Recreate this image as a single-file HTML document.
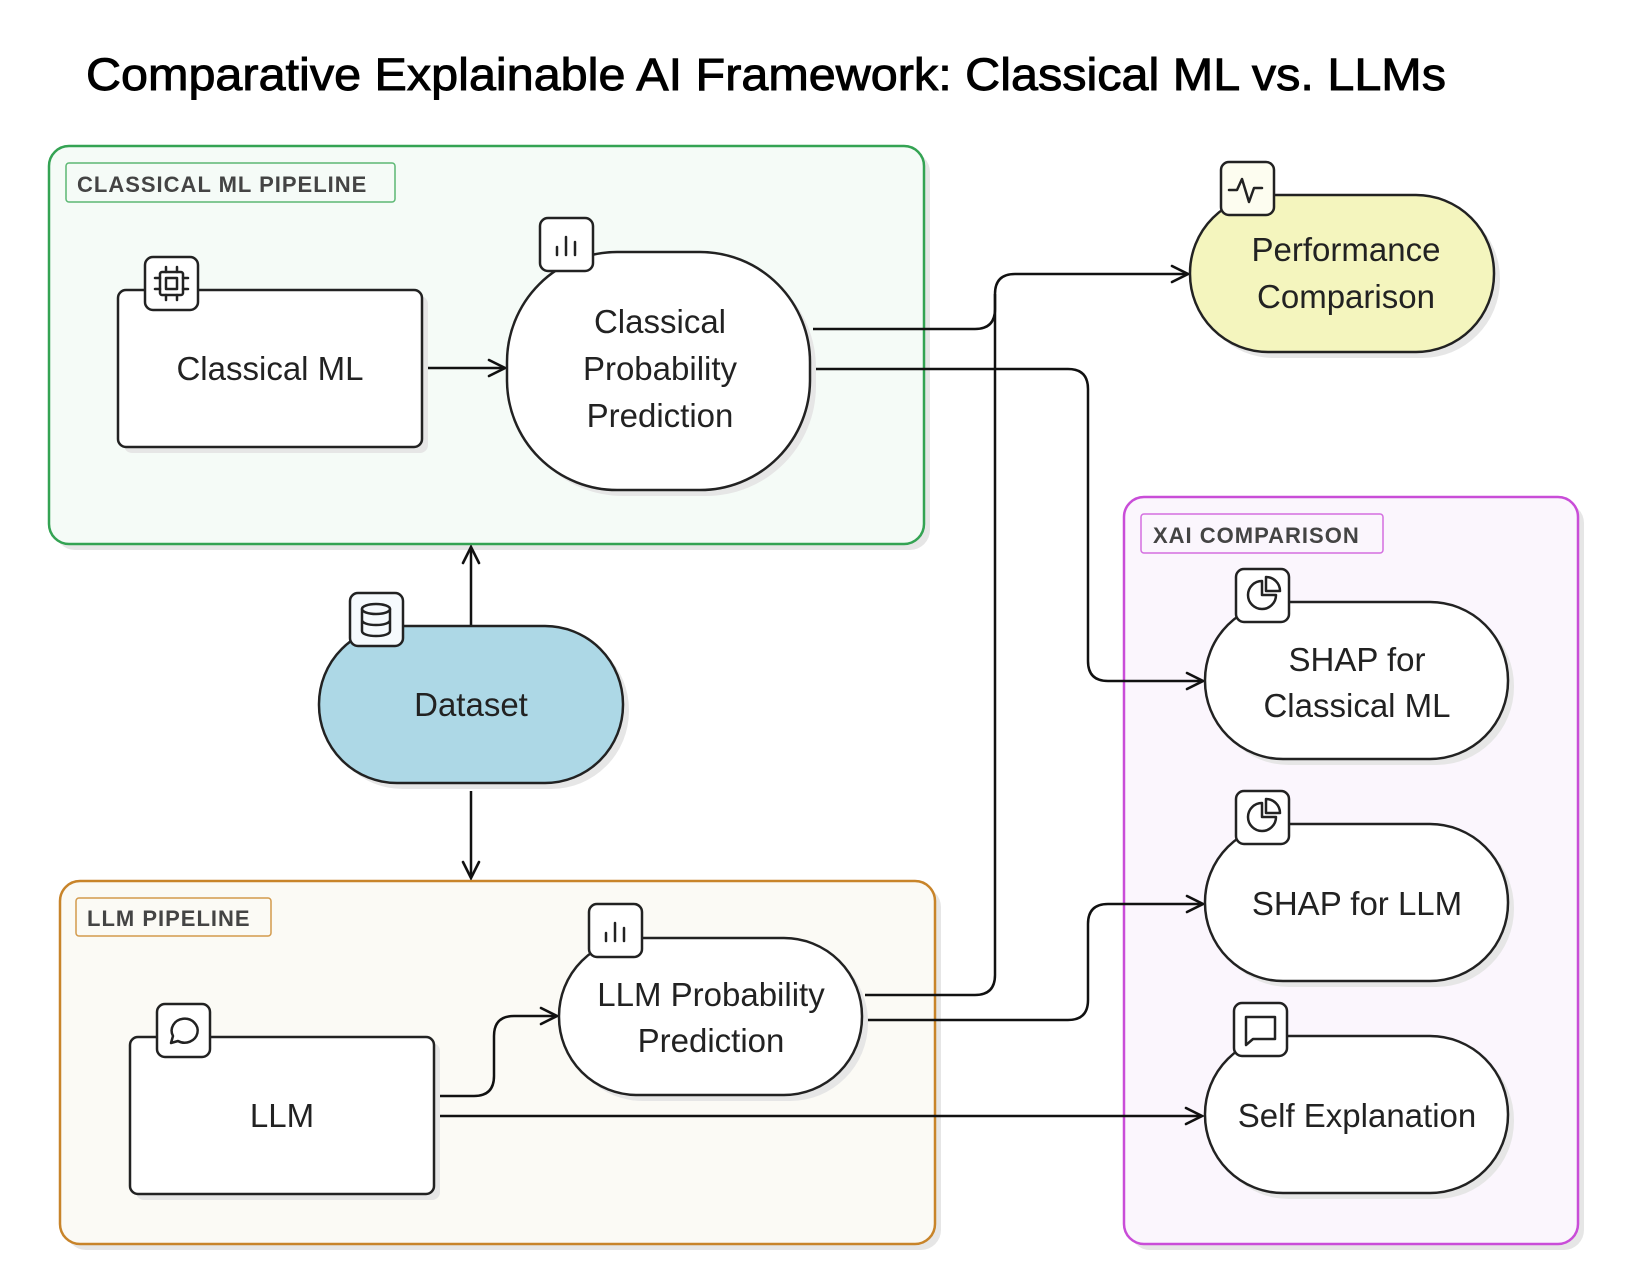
<!DOCTYPE html>
<html><head><meta charset="utf-8"><style>
html,body{margin:0;padding:0;background:#fff;}
svg{display:block;}
text{font-family:"Liberation Sans",Arial,sans-serif;}
</style></head><body>
<svg width="1629" height="1288" viewBox="0 0 1629 1288" xmlns="http://www.w3.org/2000/svg">
<defs>
<marker id="ar" viewBox="0 0 20 20" refX="18" refY="10" markerWidth="20" markerHeight="20" markerUnits="userSpaceOnUse" orient="auto">
<path d="M2 2 L18 10 L2 18" fill="none" stroke="#111" stroke-width="2.6" stroke-linecap="round"/>
</marker>
</defs>
<rect width="1629" height="1288" fill="#fff"/>
<text x="86" y="90" font-size="45" fill="#000" stroke="#000" stroke-width="0.9" textLength="1360" lengthAdjust="spacingAndGlyphs">Comparative Explainable AI Framework: Classical ML vs. LLMs</text>

<!-- groups -->
<rect x="55" y="152" width="875" height="398" rx="20" fill="#e6e6e6"/>
<rect x="49" y="146" width="875" height="398" rx="20" fill="#f5fbf7" stroke="#34a353" stroke-width="2.5"/>
<rect x="66" y="163" width="329" height="39" rx="3" fill="#f5fbf7" stroke="#5cb874" stroke-width="1.5"/>
<text x="77" y="192" font-size="22" font-weight="bold" fill="#444" letter-spacing="1">CLASSICAL ML PIPELINE</text>

<rect x="66" y="887" width="875" height="363" rx="20" fill="#e6e6e6"/>
<rect x="60" y="881" width="875" height="363" rx="20" fill="#fbfaf5" stroke="#c8842a" stroke-width="2.5"/>
<rect x="76" y="898" width="195" height="38" rx="3" fill="#fbfaf5" stroke="#d39a4c" stroke-width="1.5"/>
<text x="87" y="926" font-size="22" font-weight="bold" fill="#444" letter-spacing="1">LLM PIPELINE</text>

<rect x="1130" y="503" width="454" height="747" rx="20" fill="#e6e6e6"/>
<rect x="1124" y="497" width="454" height="747" rx="20" fill="#fbf6fd" stroke="#c94dd8" stroke-width="2.5"/>
<rect x="1141" y="514" width="242" height="39" rx="3" fill="#fbf6fd" stroke="#d46fe0" stroke-width="1.5"/>
<text x="1153" y="543" font-size="22" font-weight="bold" fill="#444" letter-spacing="1">XAI COMPARISON</text>

<!-- connectors -->
<g fill="none" stroke="#111" stroke-width="2.5">
<path d="M424 368 L505 368" marker-end="url(#ar)"/>
<path d="M813 329 L975 329 Q995 329 995 309 L995 294 Q995 274 1015 274 L1188 274" marker-end="url(#ar)"/>
<path d="M865 995 L975 995 Q995 995 995 975 L995 294"/>
<path d="M815 369 L1068 369 Q1088 369 1088 389 L1088 661 Q1088 681 1108 681 L1203 681" marker-end="url(#ar)"/>
<path d="M867 1020 L1068 1020 Q1088 1020 1088 1000 L1088 924 Q1088 904 1108 904 L1203 904" marker-end="url(#ar)"/>
<path d="M435 1096 L474 1096 Q494 1096 494 1076 L494 1036 Q494 1016 514 1016 L557 1016" marker-end="url(#ar)"/>
<path d="M435 1116 L1202 1116" marker-end="url(#ar)"/>
<path d="M471 626 L471 547" marker-end="url(#ar)"/>
<path d="M471 791 L471 878" marker-end="url(#ar)"/>
</g>

<!-- nodes -->
<g stroke="#222" stroke-width="2.5">
<rect x="124" y="296" width="304" height="157" rx="8" fill="#e6e6e6" stroke="none"/>
<rect x="118" y="290" width="304" height="157" rx="8" fill="#fff"/>
<rect x="513" y="258" width="303" height="238" rx="110" fill="#e6e6e6" stroke="none"/>
<rect x="507" y="252" width="303" height="238" rx="110" fill="#fff"/>
<rect x="1196" y="201" width="304" height="157" rx="78" fill="#e6e6e6" stroke="none"/>
<rect x="1190" y="195" width="304" height="157" rx="78" fill="#f4f5be"/>
<rect x="325" y="632" width="304" height="157" rx="78" fill="#e6e6e6" stroke="none"/>
<rect x="319" y="626" width="304" height="157" rx="78" fill="#add8e6"/>
<rect x="1211" y="608" width="303" height="157" rx="78" fill="#e6e6e6" stroke="none"/>
<rect x="1205" y="602" width="303" height="157" rx="78" fill="#fff"/>
<rect x="1211" y="830" width="303" height="157" rx="78" fill="#e6e6e6" stroke="none"/>
<rect x="1205" y="824" width="303" height="157" rx="78" fill="#fff"/>
<rect x="1211" y="1042" width="303" height="157" rx="78" fill="#e6e6e6" stroke="none"/>
<rect x="1205" y="1036" width="303" height="157" rx="78" fill="#fff"/>
<rect x="565" y="944" width="303" height="157" rx="78" fill="#e6e6e6" stroke="none"/>
<rect x="559" y="938" width="303" height="157" rx="78" fill="#fff"/>
<rect x="136" y="1043" width="304" height="157" rx="8" fill="#e6e6e6" stroke="none"/>
<rect x="130" y="1037" width="304" height="157" rx="8" fill="#fff"/>
</g>

<!-- labels -->
<g font-size="33" fill="#222" text-anchor="middle">
<text x="270" y="380">Classical ML</text>
<text x="660" y="333">Classical</text>
<text x="660" y="380">Probability</text>
<text x="660" y="427">Prediction</text>
<text x="1346" y="261">Performance</text>
<text x="1346" y="308">Comparison</text>
<text x="471" y="716">Dataset</text>
<text x="1357" y="671">SHAP for</text>
<text x="1357" y="717">Classical ML</text>
<text x="1357" y="915">SHAP for LLM</text>
<text x="1357" y="1127">Self Explanation</text>
<text x="711" y="1006">LLM Probability</text>
<text x="711" y="1052">Prediction</text>
<text x="282" y="1127">LLM</text>
</g>

<!-- icon boxes -->
<g stroke="#222" stroke-width="2.5" fill="#fff">
<rect x="145" y="257" width="53" height="53" rx="8"/>
<rect x="540" y="218" width="53" height="53" rx="8"/>
<rect x="1221" y="162" width="53" height="53" rx="8" fill="#fdfdf0"/>
<rect x="350" y="593" width="53" height="53" rx="8" fill="#f6fafd"/>
<rect x="1236" y="569" width="53" height="53" rx="8"/>
<rect x="1236" y="791" width="53" height="53" rx="8"/>
<rect x="1234" y="1003" width="53" height="53" rx="8"/>
<rect x="589" y="904" width="53" height="53" rx="8"/>
<rect x="157" y="1004" width="53" height="53" rx="8"/>
</g>
<!-- icon glyphs -->
<g stroke="#222" stroke-width="2.5" fill="none" stroke-linecap="round" stroke-linejoin="round">
<rect x="160" y="272" width="23" height="23" rx="2"/><rect x="166" y="278" width="11" height="11"/>
<path d="M166 267v5M177 267v5M166 295v5M177 295v5M155 278h5M155 289h5M183 278h5M183 289h5"/>
<path d="M557 255v-8M566 255v-18M575 255v-13"/>
<path d="M606 941v-8M615 941v-18M624 941v-13"/>
<path d="M1229 190h8l5-11 7 23 5-14h8"/>
<ellipse cx="376" cy="609" rx="14" ry="5"/><path d="M362 609v22c0 3 6 5 14 5s14-2 14-5v-22M362 620c0 3 6 5 14 5s14-2 14-5"/>
<path d="M1262 581a14 14 0 1 0 14 14h-14z"/><path d="M1266 577v14h14a14 14 0 0 0-14-14z"/>
<path d="M1262 803a14 14 0 1 0 14 14h-14z"/><path d="M1266 799v14h14a14 14 0 0 0-14-14z"/>
<path d="M1246 1017h29v22h-22l-7 6z"/>
<path d="M171 1043l2-7a13 12 0 1 1 5 5z"/>
</g>
</svg>
</body></html>
